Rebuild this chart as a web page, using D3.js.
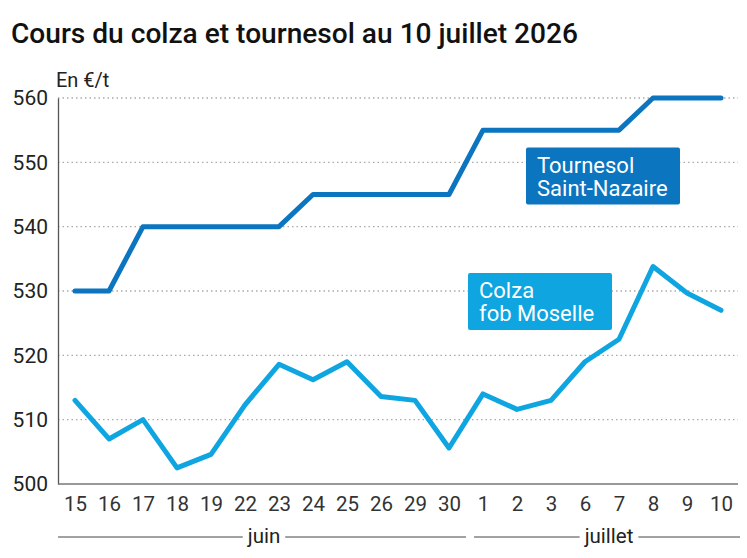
<!DOCTYPE html>
<html>
<head>
<meta charset="utf-8">
<script src="https://cdn.jsdelivr.net/npm/d3@7"></script>
<style>
    body { margin: 0; background: #fff; }
    svg { font-family: Roboto, "Noto Sans", sans-serif; }
</style>
</head>
<body>
<svg id="chart" width="747" height="558"></svg>
<script>
const days = ["15", "16", "17", "18", "19", "22", "23", "24", "25", "26", "29", "30",
    "1", "2", "3", "6", "7", "8", "9", "10"];
const months = [
    {name: "juin", first: "15", last: "30"},
    {name: "juillet", first: "1", last: "10"}
];
const tournesol = [530, 530, 540, 540, 540, 540, 540, 545, 545, 545, 545, 545,
    555, 555, 555, 555, 555, 560, 560, 560];
const colza = [513, 507, 510, 502.5, 504.6, 512.3, 518.6, 516.2, 519, 513.6, 513, 505.6,
    514, 511.6, 513, 519, 522.5, 533.8, 529.7, 527];
const yTicks = [500, 510, 520, 530, 540, 550, 560];

const svg = d3.select("#chart");
let margin = {top: 98, right: 9, bottom: 74, left: 58},
    width = 747 - margin.left - margin.right,
    height = 558 - margin.top - margin.bottom;

let x = d3.scalePoint()
    .domain(days)
    .range([margin.left, margin.left + width])
    .padding(0.5);

let y = d3.scaleLinear()
    .domain([500, 560])
    .range([margin.top + height, margin.top]);

// title
svg.append("text")
    .attr("x", 11)
    .attr("y", 43)
    .attr("font-size", 28.1)
    .attr("font-weight", 500)
    .attr("fill", "#111")
    .text("Cours du colza et tournesol au 10 juillet 2026");

svg.append("text")
    .attr("x", 56)
    .attr("y", 87)
    .attr("font-size", 20)
    .attr("fill", "#222")
    .text("En €/t");

// gridlines
svg.append("g")
    .selectAll("line")
    .data(yTicks.filter(d => d > 500))
    .enter().append("line")
    .attr("x1", margin.left)
    .attr("x2", margin.left + width)
    .attr("y1", d => y(d))
    .attr("y2", d => y(d))
    .attr("stroke", "#aaa")
    .attr("stroke-width", 1.3)
    .attr("stroke-dasharray", "1.5,3");

// y axis
let yAxis = svg.append("g")
    .attr("transform", "translate(" + margin.left + ",0)")
    .call(d3.axisLeft(y).tickValues(yTicks).tickSize(0).tickPadding(10));
yAxis.select(".domain").attr("stroke", "#555").attr("stroke-width", 1.3);
yAxis.selectAll("text").attr("font-size", 21).attr("fill", "#222")
    .attr("font-family", "Roboto, sans-serif");

// x axis
let xAxis = svg.append("g")
    .attr("transform", "translate(0," + (margin.top + height) + ")")
    .call(d3.axisBottom(x).tickSize(0).tickPadding(12));
xAxis.select(".domain").attr("d", "M" + margin.left + ",0H" + (margin.left + width))
    .attr("stroke", "#777").attr("stroke-width", 1.3);
xAxis.selectAll("text").attr("font-size", 20.5).attr("fill", "#333")
    .attr("font-family", "Roboto, sans-serif");

// month brackets
let step = x.step();
let monthY = 537;
months.forEach(function (m, i) {
    let x0 = i === 0 ? margin.left : x(m.first) - step / 2 + 8;
    let x1 = i === months.length - 1 ? margin.left + width + 2 : x(m.last) + step / 2;
    let cx = (x0 + x1) / 2;
    let g = svg.append("g");
    let t = g.append("text")
        .attr("x", cx + 2)
        .attr("y", monthY + 6)
        .attr("text-anchor", "middle")
        .attr("font-size", 20.5)
        .attr("fill", "#222")
        .text(m.name);
    let w = t.node().getComputedTextLength();
    g.append("line")
        .attr("x1", x0).attr("x2", cx + 2 - w / 2 - 5)
        .attr("y1", monthY).attr("y2", monthY)
        .attr("stroke", "#444").attr("stroke-width", 1);
    g.append("line")
        .attr("x1", cx + 2 + w / 2 + 5).attr("x2", x1)
        .attr("y1", monthY).attr("y2", monthY)
        .attr("stroke", "#444").attr("stroke-width", 1);
});

// lines
let line = d3.line()
    .x((d, i) => x(days[i]))
    .y(d => y(d));

svg.append("path")
    .datum(colza)
    .attr("d", line)
    .attr("fill", "none")
    .attr("stroke", "#0ea5e0")
    .attr("stroke-width", 5)
    .attr("stroke-linejoin", "round")
    .attr("stroke-linecap", "round");

svg.append("path")
    .datum(tournesol)
    .attr("d", line)
    .attr("fill", "none")
    .attr("stroke", "#0b75bf")
    .attr("stroke-width", 5)
    .attr("stroke-linejoin", "round")
    .attr("stroke-linecap", "round");

// labels
function drawLabel(lines, bx, by, bw, bh, color) {
    let g = svg.append("g");
    g.append("rect")
        .attr("x", bx).attr("y", by)
        .attr("width", bw).attr("height", bh)
        .attr("rx", 2)
        .attr("fill", color);
    lines.forEach(function (l, i) {
        g.append("text")
            .attr("x", bx + 11)
            .attr("y", by + 25 + i * 23.5)
            .attr("font-size", 22)
            .attr("fill", "#fff")
            .text(l);
    });
}
drawLabel(["Tournesol", "Saint-Nazaire"], 526, y(552.3), 154, 57, "#0b75bf");
drawLabel(["Colza", "fob Moselle"], 468, y(532.8), 144, 57, "#0ea5e0");
</script>
</body>
</html>
